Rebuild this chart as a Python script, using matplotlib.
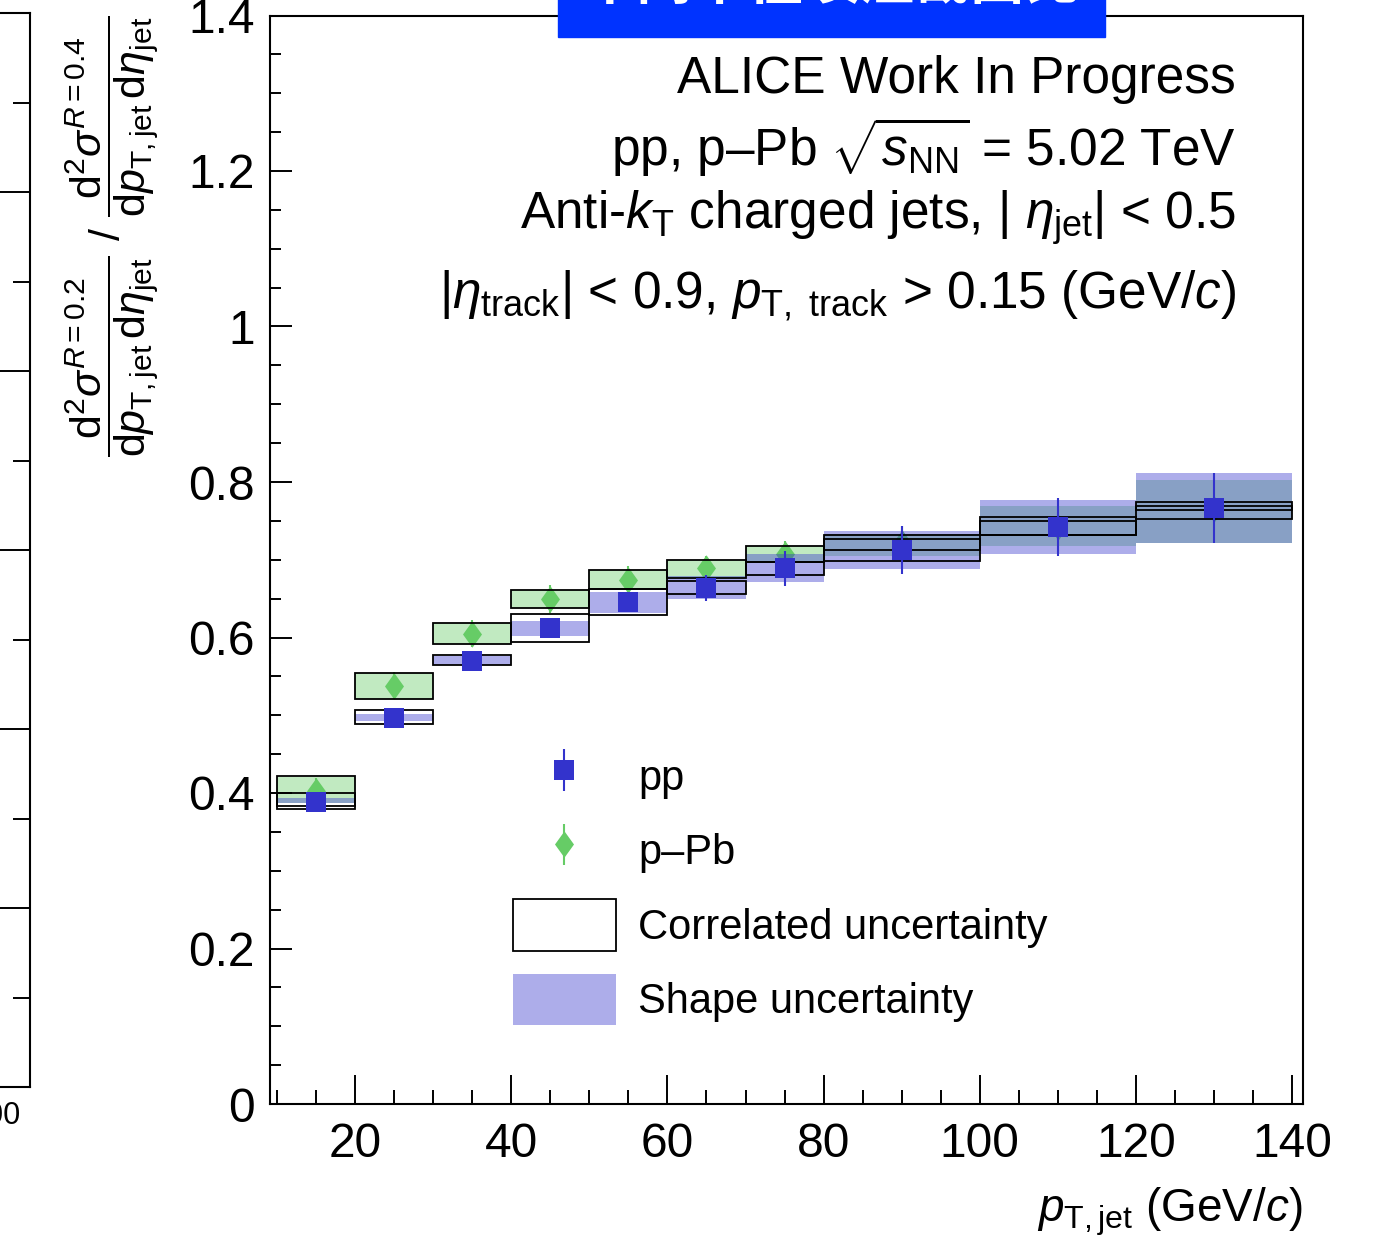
import matplotlib
matplotlib.use("Agg")
from matplotlib import pyplot as plt
from matplotlib.patches import Rectangle
from matplotlib.ticker import MultipleLocator, FuncFormatter
import numpy as np

plt.rcParams["font.family"] = ["Liberation Sans", "DejaVu Sans"]
plt.rcParams["mathtext.fontset"] = "custom"
plt.rcParams["mathtext.rm"] = "Liberation Sans"
plt.rcParams["mathtext.it"] = "Liberation Sans:italic"
plt.rcParams["mathtext.bf"] = "Liberation Sans:bold"
plt.rcParams["mathtext.sf"] = "Liberation Sans"

# jet pT bins (GeV/c)
bin_lo = [10, 20, 30, 40, 50, 60, 70, 80, 100, 120]
bin_hi = [20, 30, 40, 50, 60, 70, 80, 100, 120, 140]

# R=0.2 / R=0.4 ratio, pp
pp_val = [0.389, 0.497, 0.570, 0.612, 0.646, 0.664, 0.689, 0.713, 0.742, 0.767]
pp_stat = [0.005, 0.005, 0.005, 0.006, 0.008, 0.0165, 0.0225, 0.031, 0.0375, 0.045]
pp_shape_lo = [0.387, 0.493, 0.565, 0.602, 0.6315, 0.6495, 0.671, 0.688, 0.708, 0.7216]
pp_shape_hi = [0.393, 0.502, 0.576, 0.621, 0.658, 0.6795, 0.708, 0.7375, 0.7773, 0.8117]
pp_corr_lo = [0.380, 0.489, 0.564, 0.594, 0.629, 0.656, 0.681, 0.698, 0.7323, 0.7525]
pp_corr_hi = [0.4006, 0.507, 0.577, 0.630, 0.6624, 0.6722, 0.6967, 0.7267, 0.7503, 0.7687]

# R=0.2 / R=0.4 ratio, p-Pb
ppb_val = [0.403, 0.538, 0.605, 0.650, 0.674, 0.689, 0.708, 0.722, 0.742, 0.765]
ppb_stat = [0.016, 0.017, 0.017, 0.018, 0.0175, 0.016, 0.016, 0.022, 0.017, 0.012]
ppb_shape_lo = [0.387, 0.521, 0.591, 0.638, 0.6624, 0.6766, 0.6967, 0.7053, 0.7181, 0.7216]
ppb_shape_hi = [0.420, 0.5543, 0.6186, 0.6615, 0.6864, 0.6993, 0.7181, 0.7336, 0.7687, 0.803]
ppb_corr_lo = [0.3835, 0.521, 0.591, 0.638, 0.6624, 0.6766, 0.6967, 0.7122, 0.7323, 0.7645]
ppb_corr_hi = [0.4213, 0.5543, 0.6186, 0.6615, 0.6864, 0.6993, 0.7181, 0.7323, 0.7546, 0.7745]

pp_color = "#3333CC"
ppb_color = "#66CC66"

W, H = 1374, 1248
lo = np.array(bin_lo, dtype=float)
hi = np.array(bin_hi, dtype=float)
xc = 0.5 * (lo + hi)
xw = hi - lo

fig = plt.figure(figsize=(W / 100, H / 100), dpi=100)

# right-hand edge of the neighbouring panel
ax0 = fig.add_axes([-1000 / W, 1 - 1087 / H, 1030 / W, (1087 - 13) / H])
ax0.set_xlim(0, 103.5)
ax0.set_ylim(0, 6)
ax0.set_xticks([100])
ax0.set_yticks(range(7))
ax0.yaxis.set_minor_locator(MultipleLocator(0.5))
ax0.tick_params(axis="y", which="both", direction="in", left=False, right=True,
                labelleft=False, width=1.4)
ax0.tick_params(axis="y", which="major", length=30)
ax0.tick_params(axis="y", which="minor", length=12)
ax0.tick_params(axis="x", direction="in", labelsize=22, pad=10)
for s in ax0.spines.values():
    s.set_linewidth(1.5)

ax = fig.add_axes([270 / W, 1 - 1104 / H, 1033 / W, (1104 - 15.5) / H])


def boxes(y_lo, y_hi, **kw):
    y_lo = np.array(y_lo)
    y_hi = np.array(y_hi)
    return ax.bar(xc, y_hi - y_lo, bottom=y_lo, width=xw, align="center", **kw)


ppb_shape = boxes(ppb_shape_lo, ppb_shape_hi, color=ppb_color, alpha=0.4, linewidth=0, zorder=1)

diamond = [(0, 0.5), (0.36, 0), (0, -0.5), (-0.36, 0), (0, 0.5)]
ppb_eb = ax.errorbar(xc, ppb_val, yerr=ppb_stat, marker=diamond, linestyle="none",
                     color=ppb_color, ms=19, mew=0, elinewidth=1.5, capsize=0,
                     zorder=2)

pp_shape = boxes(pp_shape_lo, pp_shape_hi, color=pp_color, alpha=0.4, linewidth=0, zorder=3)

ppb_corr = boxes(ppb_corr_lo, ppb_corr_hi, fill=False, edgecolor="black", linewidth=1.3, zorder=4)
pp_corr = boxes(pp_corr_lo, pp_corr_hi, fill=False, edgecolor="black", linewidth=1.3, zorder=4)

pp_eb = ax.errorbar(xc, pp_val, yerr=pp_stat, marker="s", linestyle="none",
                    color=pp_color, ms=13.7, mew=0, elinewidth=1.5, capsize=0,
                    zorder=5)

ax.set_xlim(9.1, 141.4)
ax.set_ylim(0, 1.4)
ax.xaxis.set_major_locator(MultipleLocator(20))
ax.xaxis.set_minor_locator(MultipleLocator(5))
ax.yaxis.set_major_locator(MultipleLocator(0.2))
ax.yaxis.set_minor_locator(MultipleLocator(0.05))
ax.yaxis.set_major_formatter(FuncFormatter(lambda v, p: "{:g}".format(round(v, 2))))
ax.tick_params(which="both", direction="in", top=False, right=False, width=1.4, labelsize=34.5)
ax.tick_params(axis="x", which="major", length=21, pad=13)
ax.tick_params(axis="x", which="minor", length=10)
ax.tick_params(axis="y", which="major", length=16, pad=11)
ax.tick_params(axis="y", which="minor", length=8)
for s in ax.spines.values():
    s.set_linewidth(1.5)

ax.set_xlabel(r"$p_{\mathrm{T,jet}}$ (GeV/$c$)", fontsize=33, loc="right")
ax.xaxis.set_label_coords(1.0, -(1222 - 1104) / 1089)
ax.xaxis.label.set_verticalalignment("baseline")

frac = r"$\dfrac{\mathrm{d}^{2}\sigma^{R=%s}}{\mathrm{d}p_{\mathrm{T,jet}}\,\mathrm{d}\eta_{\mathrm{jet}}}$"
ax.set_ylabel(frac % "0.2" + " / " + frac % "0.4", fontsize=31, loc="top")
ax.yaxis.set_label_coords(-(270 - 112) / 1033, 1.0)
ax.yaxis.label.set_verticalalignment("center")

leg = ax.legend([pp_eb, ppb_eb, pp_corr, pp_shape],
                ["pp", "p\u2013Pb", "Correlated uncertainty", "Shape uncertainty"],
                loc="upper left", bbox_to_anchor=(513 / W, 1 - 750 / H),
                bbox_transform=fig.transFigure, frameon=False, fontsize=30,
                handlelength=2.47, handleheight=1.53, handletextpad=0.53,
                labelspacing=0.55, borderpad=0, borderaxespad=0)

# collaboration / selection text
tx = 1236 / W
fig.text(tx, 1 - 93 / H, "ALICE Work In Progress", ha="right", va="baseline", fontsize=37)
fig.text(tx, 1 - 166 / H, "pp, p\u2013Pb " + r"$\sqrt{s_{\mathrm{NN}}}$ = 5.02 TeV",
         ha="right", va="baseline", fontsize=37)
fig.text(tx, 1 - 229 / H, r"Anti-$k_{\mathrm{T}}$ charged jets, | $\eta_{\mathrm{jet}}$| < 0.5",
         ha="right", va="baseline", fontsize=37)
fig.text(tx, 1 - 308 / H, r"|$\eta_{\mathrm{track}}$| < 0.9, $p_{\mathrm{T,\ track}}$ > 0.15 (GeV/$c$)",
         ha="right", va="baseline", fontsize=37)

# slide title banner
fig.add_artist(Rectangle((558 / W, 1 - 37 / H), 547 / W, 60 / H,
                         transform=fig.transFigure, color="#0033FF", zorder=10))
fig.text(831 / W, 1 + 17 / H, "不同半径喷注截面比", color="white", fontsize=40,
         fontweight="bold", family=["Noto Sans CJK SC", "DejaVu Sans"],
         ha="center", va="center", zorder=11)

fig.savefig("out.png", dpi=100)
